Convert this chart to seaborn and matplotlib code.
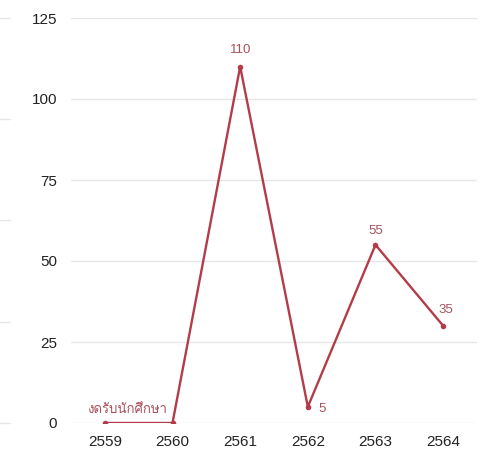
import matplotlib
matplotlib.use("Agg")
import matplotlib.pyplot as plt
from matplotlib import font_manager
from matplotlib.lines import Line2D
from fontTools.ttLib import TTFont
import seaborn as sns
import pandas as pd

years = ["2559", "2560", "2561", "2562", "2563", "2564"]
students = [0, 0, 110, 5, 55, 30]
point_labels = ["งดรับนักศึกษา", "", "110", "5", "55", "35"]

# find a font that can draw Thai
thai_font = None
for f in font_manager.fontManager.ttflist:
    try:
        cmap = TTFont(f.fname, fontNumber=0, lazy=True).getBestCmap()
    except Exception:
        continue
    if cmap and ord("ง") in cmap:
        thai_font = f.name
        break

sns.set_style("white")
fams = ["DejaVu Sans"] if thai_font is None else [thai_font, "DejaVu Sans"]
plt.rcParams["font.family"] = ["Liberation Sans"] + fams

df = pd.DataFrame({"year": years, "n": students})
red = "#b23c48"

fig = plt.figure(figsize=(4.85, 4.55), dpi=100)
ax = fig.add_axes([71 / 485, 1 - 423 / 455, 406 / 485, 405 / 455])
sns.lineplot(data=df, x="year", y="n", color=red, lw=1.7, marker="o",
             markersize=4, markeredgewidth=0, ax=ax, sort=False)
ax.set_xlim(-0.5, 5.5)
ax.set_ylim(0, 125)
ax.set_yticks([0, 25, 50, 75, 100, 125])
ax.grid(axis="y", color="#e6e6e6", lw=1)
ax.set_axisbelow(True)
for s in ax.spines.values():
    s.set_visible(False)
ax.tick_params(length=0, labelsize=11, labelcolor="#222222", pad=9)
ax.tick_params(axis="y", pad=10)
ax.set_xlabel("")
ax.set_ylabel("")

lab_color = "#a8505c"
offsets = [(0.33, 2.3), None, (0, 3.4), (0.16, -2.4), (0, 2.4), (0.04, 3.0)]
for i, (txt, off) in enumerate(zip(point_labels, offsets)):
    if not txt:
        continue
    ha = "center"
    if i == 3:
        ha = "left"
    ax.text(i + off[0], students[i] + off[1], txt, color=lab_color,
            fontsize=9.5, ha=ha, va="bottom", family=fams if i == 0 else None)

# stubs of the neighbouring chart's grid on the left edge
for y in [18, 119, 220, 322, 423]:
    fig.add_artist(Line2D([0, 10 / 485], [1 - y / 455] * 2, color="#e6e6e6", lw=1))

fig.savefig("out.png", dpi=100)
